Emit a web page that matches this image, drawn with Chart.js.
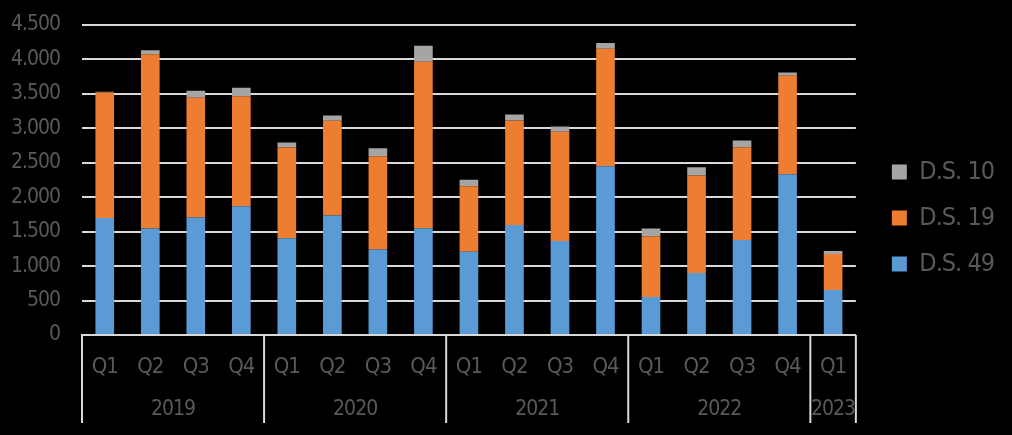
<!DOCTYPE html>
<html>
<head>
<meta charset="utf-8">
<script src="https://cdn.jsdelivr.net/npm/chart.js@4"></script>
<style>
  html, body { margin: 0; padding: 0; background: #000; }
  #wrap { width: 1012px; height: 435px; }
</style>
</head>
<body>
<div id="wrap"><canvas id="myChart" width="1012" height="435"></canvas></div>
<script>
var quarters = ['Q1', 'Q2', 'Q3', 'Q4', 'Q1', 'Q2', 'Q3', 'Q4', 'Q1', 'Q2', 'Q3', 'Q4', 'Q1', 'Q2', 'Q3', 'Q4', 'Q1'];
var years = ['2019', '2020', '2021', '2022', '2023'];
var yearStart = [0, 4, 8, 12, 16];
var yearCount = [4, 4, 4, 4, 1];
var ds49 = [1700, 1545, 1705, 1870, 1405, 1735, 1240, 1550, 1210, 1595, 1365, 2450, 550, 900, 1380, 2335, 655];
var ds19 = [1820, 2530, 1740, 1595, 1315, 1375, 1355, 2415, 950, 1520, 1585, 1705, 885, 1415, 1345, 1430, 520];
var ds10 = [10, 60, 100, 125, 75, 75, 115, 235, 95, 85, 75, 85, 110, 120, 100, 45, 45];
var yTicks = [0, 500, 1000, 1500, 2000, 2500, 3000, 3500, 4000, 4500];

var textColor = '#595959';
var lineColor = '#d9d9d9';
var fontFamily = "'DejaVu Sans Condensed', sans-serif";

// narrow the text a bit, the original uses a narrow font
var tightText = {
  id: 'tightText',
  beforeLayout: function(chart) { chart.ctx.letterSpacing = '-1px'; },
  beforeDraw: function(chart) { chart.ctx.letterSpacing = '-1px'; },
  afterLayout: function(chart) {
    // legend sits a bit further right and higher than chart.js puts it
    chart.legend.left += 15;
    chart.legend.right += 15;
    chart.legend.top -= 12;
    chart.legend.bottom -= 12;
  }
};

// draws the year row and the separators under the quarter labels
var yearAxis = {
  id: 'yearAxis',
  afterDraw: function(chart) {
    var ctx = chart.ctx;
    var x = chart.scales.x;
    var half = (x.getPixelForValue(1) - x.getPixelForValue(0)) / 2;
    var top = chart.chartArea.bottom;
    ctx.save();
    ctx.strokeStyle = lineColor;
    ctx.lineWidth = 2;
    ctx.beginPath();
    for (var i = 0; i < years.length; i++) {
      var left = x.getPixelForValue(yearStart[i]) - half;
      ctx.moveTo(left, top);
      ctx.lineTo(left, top + 88);
    }
    var end = x.getPixelForValue(quarters.length - 1) + half;
    ctx.moveTo(end, top);
    ctx.lineTo(end, top + 88);
    ctx.stroke();
    ctx.fillStyle = textColor;
    ctx.font = '21px ' + fontFamily;
    ctx.textAlign = 'center';
    ctx.textBaseline = 'middle';
    for (var j = 0; j < years.length; j++) {
      var a = x.getPixelForValue(yearStart[j]) - half;
      var b = x.getPixelForValue(yearStart[j] + yearCount[j] - 1) + half;
      ctx.fillText(years[j], (a + b) / 2, top + 75);
    }
    ctx.restore();
  }
};

var ctx = document.getElementById('myChart').getContext('2d');
var myChart = new Chart(ctx, {
  type: 'bar',
  data: {
    labels: quarters,
    datasets: [{
      label: 'D.S. 49',
      data: ds49,
      backgroundColor: '#5b9bd5',
      barPercentage: 0.41,
      categoryPercentage: 1
    },
    {
      label: 'D.S. 19',
      data: ds19,
      backgroundColor: '#ed7d31',
      barPercentage: 0.41,
      categoryPercentage: 1
    },
    {
      label: 'D.S. 10',
      data: ds10,
      backgroundColor: '#a5a5a5',
      barPercentage: 0.41,
      categoryPercentage: 1
    }]
  },
  options: {
    responsive: false,
    animation: false,
    layout: { padding: { top: 25, left: 0, right: 23, bottom: 0 } },
    plugins: {
      legend: {
        position: 'right',
        reverse: true,
        labels: {
          color: textColor,
          font: { family: fontFamily, size: 25 },
          boxWidth: 15,
          boxHeight: 15,
          padding: 21
        }
      },
      tooltip: { enabled: false }
    },
    scales: {
      x: {
        stacked: true,
        grid: { display: false },
        border: { display: true, color: lineColor, width: 2 },
        ticks: {
          color: textColor,
          font: { family: fontFamily, size: 22 },
          autoSkip: false,
          maxRotation: 0,
          padding: 11
        },
        afterFit: function(scale) { scale.height = 100; }
      },
      y: {
        stacked: true,
        min: 0,
        max: 4500,
        afterBuildTicks: function(scale) {
          scale.ticks = yTicks.map(function(v) { return { value: v }; });
        },
        afterFit: function(scale) { scale.width = 82; },
        grid: { color: lineColor, lineWidth: 2, drawTicks: true, tickLength: 22, tickColor: 'rgba(0,0,0,0)' },
        border: { display: false },
        ticks: {
          color: textColor,
          font: { family: fontFamily, size: 21 },
          padding: 0,
          callback: function(v) { return v.toLocaleString('de-DE'); }
        }
      }
    }
  },
  plugins: [tightText, yearAxis]
});
</script>
</body>
</html>
